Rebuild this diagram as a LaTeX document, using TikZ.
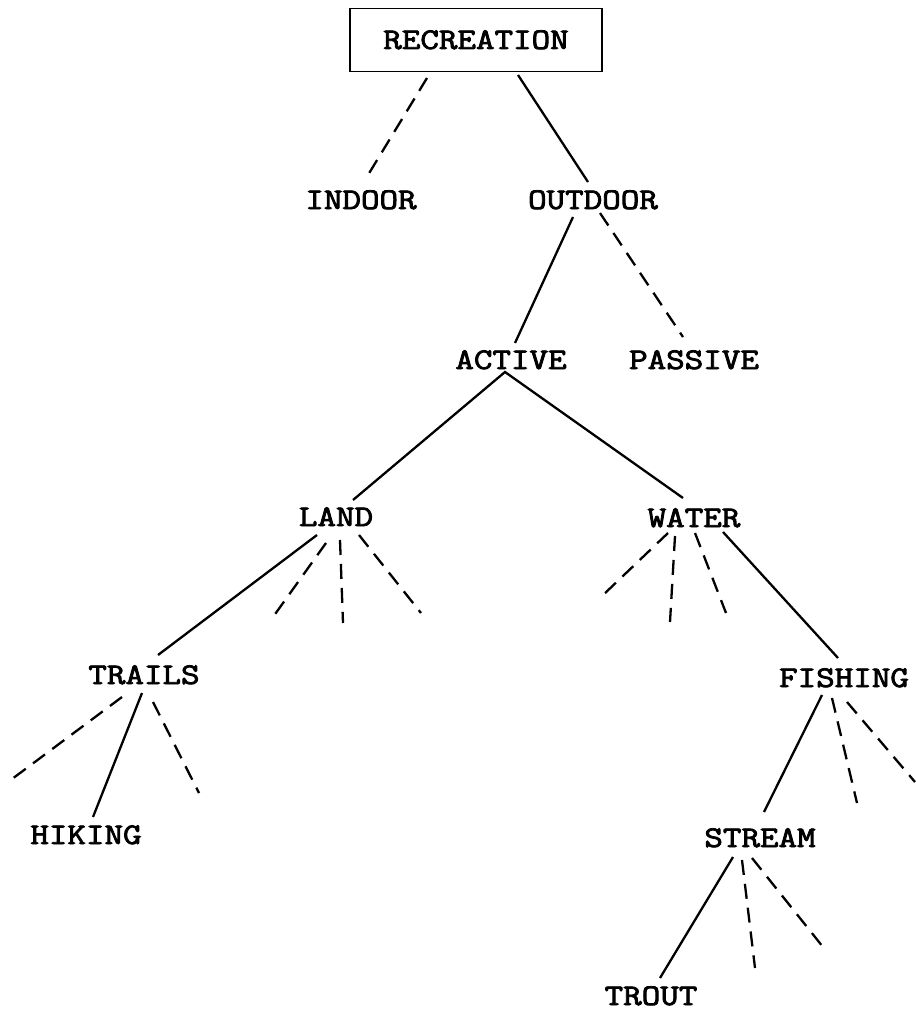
\documentclass[tikz,border=0pt]{standalone}
\usepackage{fontspec}
\newfontfamily\tw{Latin Modern Mono}[FakeBold=2.5]
\begin{document}
\begin{tikzpicture}[x=1pt,y=-1pt,
  lbl/.style={font=\tw\fontsize{30}{30}\selectfont, inner sep=0pt, text height=18pt, text depth=0pt, xscale=1.2, transform shape},
  topbox/.style={draw, line width=1.8pt, minimum width=252pt, minimum height=63pt, inner sep=0pt},
  solidline/.style={line width=2.3pt},
  dashline/.style={line width=2.3pt, dash pattern=on 15pt off 9pt}]
\useasboundingbox (0,0) rectangle (915,1011);
\node[topbox] (recbox) at (476,40) {};
\node[lbl] (rec) at (476,40) {RECREATION};
\node[lbl] (indoor) at (361,200) {INDOOR};
\node[lbl] (outdoor) at (593,200) {OUTDOOR};
\node[lbl] (active) at (511,360) {ACTIVE};
\node[lbl] (passive) at (694,360) {PASSIVE};
\node[lbl] (land) at (336,517) {LAND};
\node[lbl] (water) at (694,518) {WATER};
\node[lbl] (trails) at (144,675) {TRAILS};
\node[lbl] (fishing) at (844,678) {FISHING};
\node[lbl] (hiking) at (86,835) {HIKING};
\node[lbl] (stream) at (760,838) {STREAM};
\node[lbl] (trout) at (651,996) {TROUT};
% free ends
\coordinate (l1) at (273,617);
\coordinate (l2) at (343,623);
\coordinate (l3) at (421,613);
\coordinate (w1) at (602,596);
\coordinate (w2) at (670,622);
\coordinate (w3) at (726,613);
\coordinate (t1) at (8,782);
\coordinate (t2) at (199,793);
\coordinate (f1) at (857,803);
\coordinate (f2) at (915,782);
\coordinate (s1) at (755,968);
\coordinate (s2) at (823,947);
% connectors
\draw[dashline] ([shift={(-49,38)}]rec.center) -- ([shift={(7,-25)}]indoor.center);
\draw[solidline] ([shift={(42,35)}]rec.center) -- ([shift={(-5,-18)}]outdoor.center);
\draw[solidline] ([shift={(-20,17)}]outdoor.center) -- ([shift={(4,-17)}]active.center);
\draw[dashline] ([shift={(7,13)}]outdoor.center) -- ([shift={(-11,-23)}]passive.center);
\draw[solidline] ([shift={(17,-17)}]land.center) -- ([shift={(-6,12)}]active.center) -- ([shift={(-11,-20)}]water.center);
\draw[solidline] ([shift={(-19,18)}]land.center) -- ([shift={(14,-20)}]trails.center);
\draw[dashline] ([shift={(-10,26)}]land.center) -- (l1);
\draw[dashline] ([shift={(4,23)}]land.center) -- (l2);
\draw[dashline] ([shift={(23,18)}]land.center) -- (l3);
\draw[dashline] ([shift={(-26,15)}]water.center) -- (w1);
\draw[dashline] ([shift={(-19,18)}]water.center) -- (w2);
\draw[dashline] ([shift={(1,15)}]water.center) -- (w3);
\draw[solidline] ([shift={(29,14)}]water.center) -- ([shift={(-6,-20)}]fishing.center);
\draw[dashline] ([shift={(-22,22)}]trails.center) -- (t1);
\draw[solidline] ([shift={(-2,18)}]trails.center) -- ([shift={(7,-18)}]hiking.center);
\draw[dashline] ([shift={(9,27)}]trails.center) -- (t2);
\draw[solidline] ([shift={(-22,17)}]fishing.center) -- ([shift={(4,-26)}]stream.center);
\draw[dashline] ([shift={(-12,20)}]fishing.center) -- (f1);
\draw[dashline] ([shift={(3,24)}]fishing.center) -- (f2);
\draw[solidline] ([shift={(-27,19)}]stream.center) -- ([shift={(9,-18)}]trout.center);
\draw[dashline] ([shift={(-18,22)}]stream.center) -- (s1);
\draw[dashline] ([shift={(-8,20)}]stream.center) -- (s2);
\end{tikzpicture}
\end{document}
